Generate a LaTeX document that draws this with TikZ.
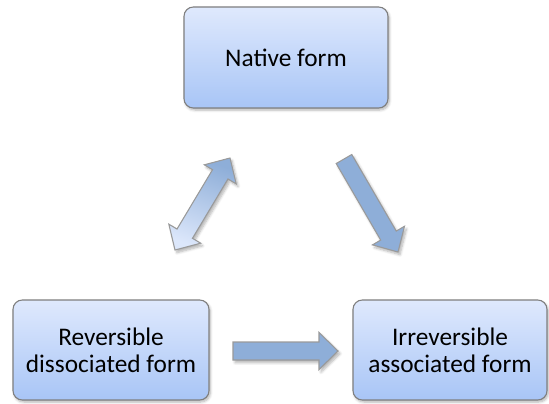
\documentclass[tikz,border=0pt]{standalone}
\usepackage{fontspec}
\setmainfont{Carlito}
\usetikzlibrary{calc,shadows,shadows.blur}
\definecolor{boxtop}{HTML}{DFE9FD}
\definecolor{boxbot}{HTML}{A8C5F6}
\definecolor{boxline}{HTML}{7F7F7F}
\definecolor{arrowblue}{HTML}{8EAED8}
\definecolor{arrowlight}{HTML}{DCE7FB}
\definecolor{arrowline}{HTML}{9A9A9A}
\newlength{\shaftw}\setlength{\shaftw}{6.75pt}
\newlength{\headw}\setlength{\headw}{13.9pt}
\newlength{\headl}\setlength{\headl}{14.25pt}
\newcommand{\onearrow}[3][]{%
  \coordinate (hb) at ($(#3)!\headl!(#2)$);
  \path[fatarrow,#1] ($(#2)!\shaftw!90:(#3)$) -- ($(hb)!\shaftw!90:(#3)$)
    -- ($(hb)!\headw!90:(#3)$) -- (#3) -- ($(hb)!\headw!-90:(#3)$)
    -- ($(hb)!\shaftw!-90:(#3)$) -- ($(#2)!\shaftw!-90:(#3)$) -- cycle;
}
\newcommand{\twoarrow}[3][]{%
  \coordinate (ha) at ($(#2)!\headl!(#3)$);
  \coordinate (hb) at ($(#3)!\headl!(#2)$);
  \path[fatarrow,#1] (#2) -- ($(ha)!\headw!90:(#3)$) -- ($(ha)!\shaftw!90:(#3)$)
    -- ($(hb)!\shaftw!90:(#3)$) -- ($(hb)!\headw!90:(#3)$) -- (#3)
    -- ($(hb)!\headw!-90:(#3)$) -- ($(hb)!\shaftw!-90:(#3)$)
    -- ($(ha)!\shaftw!-90:(#3)$) -- ($(ha)!\headw!-90:(#3)$) -- cycle;
}
\begin{document}
\begin{tikzpicture}[x=0.75pt, y=-0.75pt,
    form/.style={draw=boxline, line width=0.8pt, rounded corners=7pt,
      top color=boxtop, bottom color=boxbot, align=center,
      font=\fontsize{19}{20.5}\selectfont,
      blur shadow={shadow blur steps=6, shadow xshift=1pt, shadow yshift=-1.5pt, shadow opacity=30}},
    fatarrow/.style={draw=arrowline, line width=0.8pt, fill=arrowblue,
      blur shadow={shadow blur steps=6, shadow xshift=1.5pt, shadow yshift=-2pt, shadow opacity=30}}]
  \useasboundingbox (0,0) rectangle (549,403);
  \node [form, minimum width=153pt, minimum height=75.75pt] (native) at (286,57.5) {Native form};
  \node [form, minimum width=147pt, minimum height=75pt] (rev) at (111,350) {Reversible\\dissociated form};
  \node [form, minimum width=145.5pt, minimum height=75pt] (irr) at (450,350) {Irreversible\\associated form};
  \coordinate (revtip) at (175,250);
  \coordinate (nattip) at (230,158);
  \coordinate (nattail) at (344,159);
  \coordinate (irrtip) at (398,252);
  \coordinate (revtail) at (233,351);
  \coordinate (irrin) at (338,351);
  \twoarrow[top color=arrowblue, middle color=arrowblue, bottom color=arrowlight, shading angle=-20]{revtip}{nattip}
  \onearrow{nattail}{irrtip}
  \onearrow{revtail}{irrin}
\end{tikzpicture}
\end{document}
